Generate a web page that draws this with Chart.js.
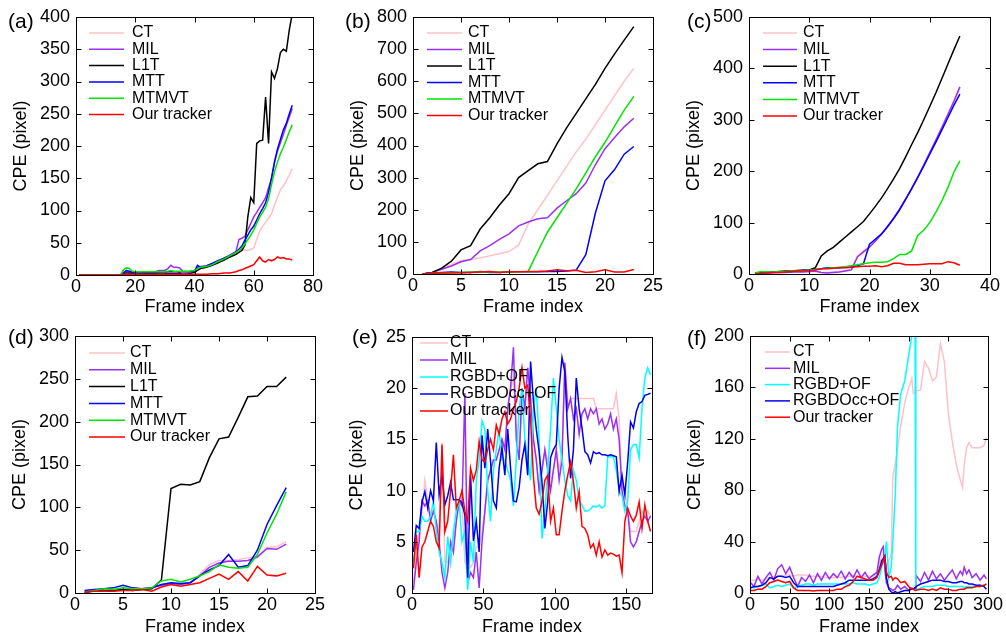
<!DOCTYPE html>
<html>
<head>
<meta charset="utf-8">
<script src="https://cdn.jsdelivr.net/npm/chart.js@4.4.1/dist/chart.umd.min.js"></script>
<style>
  html, body { margin: 0; padding: 0; background: #fff; }
  #wrap { position: relative; width: 1006px; height: 639px; overflow: hidden; }
  #wrap canvas { position: absolute; }
</style>
</head>
<body>
<div id="wrap"></div>
<script>
// ---------- colours ----------
const PINK = '#ffc0cb', PURPLE = '#9b30f5', BLACK = '#000000', BLUE = '#0000ff',
      GREEN = '#00e600', RED = '#ff0000', CYAN = '#00ffff', BLUE2 = '#0000ee';

// ---------- (a) ----------
const framesA = [1,14,15,16,17,18,19,20,22,24,26,28,30,31,32,33,34,35,36,38,40,41,42,44,46,48,50,52,54,55,56,57,58,59,60,61,62,63,64,65,66,67,68,69,70,71,72,73];
const ctA    = [0,0,0,2,5,6,4,3,3,3,3,4,4,4,4,4,4,4,3,4,5,9,11,13,16,20,24,29,34,38,39,39,38,40,42,55,68,75,82,88,95,108,120,132,138,146,155,165];
const milA   = [0,0,0,4,6,5,4,4,5,4,4,7,7,10,15,12,12,11,6,5,6,12,13,14,18,22,26,31,36,55,57,60,70,80,90,97,105,112,120,135,150,175,192,205,218,232,245,258];
const l1tA   = [0,0,0,2,3,3,2,3,3,2,2,3,3,2,2,2,2,3,1,2,4,7,10,12,15,19,23,28,32,35,38,46,90,120,112,204,208,209,276,204,315,305,320,345,350,347,380,405];
const mttA   = [0,0,0,3,7,6,4,4,4,4,4,5,5,5,5,5,5,5,5,5,6,15,12,14,18,22,26,30,36,40,45,54,62,70,76,85,95,103,112,128,150,175,195,210,225,235,250,263];
const mtmvtA = [0,0,0,8,11,10,6,5,5,5,5,5,5,6,7,6,6,6,6,6,7,10,12,13,16,21,25,30,35,38,42,48,55,62,70,80,90,97,105,118,140,160,175,188,198,210,222,233];
const oursA  = [0,0,0,1,1,1,1,1,1,1,1,1,1,1,1,1,1,1,1,1,1,1,1,1,2,2,3,3,5,7,8,10,12,14,16,22,28,22,20,24,22,24,28,26,27,25,25,23];

// ---------- (b) ----------
const framesB = [1,2,3,4,5,6,7,8,9,10,11,12,13,14,15,16,17,18,19,20,21,22,23];
const ctB    = [0,5,18,30,42,45,50,57,63,70,90,155,200,245,290,335,380,420,465,510,555,600,640];
const milB   = [0,5,15,25,38,45,72,88,108,125,150,162,172,175,205,228,250,283,340,390,425,458,485];
const l1tB   = [0,5,18,40,75,88,140,175,215,250,300,322,343,350,405,455,500,545,590,640,685,728,770];
const mttB   = [0,3,5,6,5,5,8,5,5,6,7,7,7,8,8,9,12,60,190,290,325,373,397];
const mtmvtB = [0,2,3,4,5,6,6,6,6,6,7,8,70,130,175,220,265,315,365,410,460,510,553];
const oursB  = [0,2,3,3,4,5,6,8,5,7,7,8,8,9,13,10,12,5,7,13,6,6,14];

// ---------- (c) ----------
const framesC = [1,2,3,4,5,6,7,8,9,10,11,12,13,14,15,16,17,18,19,20,21,22,23,24,25,26,27,28,29,30,31,32,33,34,35];
const ctC    = [2,2,3,3,3,4,4,4,5,5,5,3,3,4,5,7,10,35,45,53,65,78,92,108,126,146,166,188,212,236,260,284,308,334,362];
const milC   = [2,2,2,3,3,3,4,4,4,5,6,3,2,3,4,6,8,33,43,52,64,78,93,108,126,146,166,188,212,236,260,285,310,336,364];
const l1tC   = [2,3,3,4,5,6,6,7,8,8,12,35,45,52,62,72,82,92,102,117,132,148,166,185,205,228,252,275,300,326,352,380,408,436,463];
const mttC   = [1,2,3,3,4,5,5,6,7,8,9,10,12,12,12,13,14,16,20,58,68,78,92,108,125,145,166,188,210,233,256,280,304,328,350];
const mtmvtC = [2,5,4,4,5,5,6,6,7,8,9,10,11,12,13,14,16,18,20,22,23,23,24,30,38,38,45,75,85,100,120,142,168,198,220];
const oursC  = [0,1,2,3,3,4,5,6,6,7,8,10,10,11,12,12,13,14,15,15,16,14,16,21,21,18,18,18,19,20,20,20,24,22,17];

// ---------- (d) ----------
const framesD = [1,2,3,4,5,6,7,8,9,10,11,12,13,14,15,16,17,18,19,20,21,22];
const ctD    = [2,3,3,4,4,4,5,6,9,11,10,12,22,33,38,38,39,41,43,53,54,60];
const milD   = [2,2,3,3,4,4,5,6,9,11,10,12,20,30,35,37,37,38,42,52,51,57];
const l1tD   = [0,3,2,3,4,3,4,5,15,122,127,126,130,158,180,182,205,229,230,241,241,252];
const mttD   = [3,4,5,6,9,6,5,6,10,12,11,12,20,27,32,45,30,32,50,80,102,123];
const mtmvtD = [1,3,5,4,6,5,5,6,14,16,13,16,20,25,33,30,29,30,45,70,92,118];
const oursD  = [1,2,2,2,3,3,4,2,7,10,8,10,12,17,22,16,25,14,31,21,20,23];

// ---------- (e) ----------
const framesE = [1,3,5,7,9,11,13,15,17,19,21,23,25,27,29,31,33,35,37,39,41,43,45,47,49,51,53,55,57,59,61,63,65,67,69,71,73,75,77,79,81,83,85,87,89,91,93,95,97,99,101,103,105,107,109,111,113,115,117,119,121,123,125,127,129,131,133,135,137,139,141,143,145,147,149,151,153,155,157,159,161,163,165,167];
const ctE    = [1,4,6,8,11,9,7.5,8,7,6,14.7,3,3,5,5,7,9,9,3,2.5,2.5,3,4.5,4.5,6,8,11,12,13,13,14,15,14,18,20,21,16,14,18,18,22,19,15,13,10,12,14,13,11,12,14,12,14,22,18,19,19,19,19,19,19,19,19,19,18,18,18,18,18,18,18,19.5,17,10,10,8,6,6,6,7,8,7.5,8,7.5];
const milE   = [0.3,3,5,9,8.5,9,7,8,7,5,2,0.5,2,5,4,7,9,8.5,19.5,1,2,1.5,4,0.5,5,8,11,12,13,13,14,15,14,18,20,24,15,13,20,18,22,19,15,13,10,12,14,12,10,12,14,11,13,22.5,18,19,17,18,15.5,17.5,18,17,18,17.5,18,16.5,17,16,16.5,17.5,16,17,15,10,8.5,8,5,4.5,5,6,7,7.5,7,7.5];
const rgbdE  = [3,6,6,7.5,7,7,7.5,9,6,4,3,1.5,5.5,3,6,8,9,5,6,0.3,5,3,11,13,16.8,16,10,7,12,14,16,13,13,12,11,8.5,13,18,20,15,13,11,18,20,15,5.3,8,12,16,21,18,15,13,11,9.5,9,12,11,9,8.6,8,8,8.2,8.5,8.4,8.6,8.3,8.5,13.3,13.3,13.3,12,10,9.5,8,9,14,14.5,14.5,13.2,18,21,22,21.3];
const occE   = [4,6.6,6.3,8.9,9.9,8.3,10,9,14.7,9.6,11.5,8.6,9.5,10.8,9.1,9.1,9.1,8.8,7.6,1.5,11.5,5.1,7,4,15.4,12.2,16,12.8,9,8.3,12.2,14.2,11.5,16,12.2,9,8.9,10.3,13,14.5,11.5,22.6,18.7,16,13.8,10.8,6.3,8.9,13.2,14,14.5,20,23,21.6,15.4,11.2,14,21,18,16.1,13.8,13.5,12.7,13.8,13.6,13.7,13.5,13.5,13.4,13.5,13.4,13.3,9.9,11.5,9.6,12.8,16.7,16.1,17.7,18.5,18.7,19.3,19.4,19.5];
const oursE  = [2.4,5.7,1.5,4.5,5,6,7,6.5,5,4.4,14.5,6,7,10,13.5,8.3,9,10,8,7,12.2,11,12,14.8,13,12.8,14,15,14,16.4,15.5,17,17.7,16.5,17,18,18.7,20,22,20,20.3,17,11.3,8.3,7.7,9,11,11.5,7,8.3,5.7,5.7,8,10,11.5,12.8,10.9,8.3,9.9,6.5,6.3,5.7,4.4,4.8,3.7,5,3.5,4.2,3.7,3.9,3.8,3.6,3.7,2,7,8.3,7.5,7,7.6,8.9,6.3,8.6,7,6];

// ---------- (f) ----------
const framesF = [1,5,10,15,20,25,30,35,40,45,50,55,60,65,70,75,80,85,90,95,100,105,110,115,120,125,130,135,140,145,150,155,160,163,166,168,170,172,175,178,180,183,186,190,195,200,204,206,208,209,215,220,225,230,235,240,245,250,255,260,265,268,270,273,276,280,285,290,295,298];
const ctF    = [10,10,11,10,11,12,12,13,13,14,14,13,14,14,14,13,13,13,13,12,12,12,12,12,13,13,13,13,13,13,13,13,15,22,30,30,22,20,25,30,90,100,112,130,148,160,167,155,156,157,158,180,175,165,168,194,180,140,118,100,88,82,100,113,117,113,113,113,115,121];
const milF   = [8,5,13,7,12,16,10,19,22,15,20,12,5,12,9,14,8,15,10,16,11,15,12,17,11,16,12,18,12,16,11,14,16,28,34,36,18,8,4,3,2,3,6,3,5,2,4,3,4,14,9,16,10,17,11,15,10,14,18,11,17,14,20,15,18,12,15,10,14,11];
const rgbdF  = [5,4,5,6,7,4,5,6,5,6,7,4,5,6,7,7,6,7,7,7,7,7,7,7,7,7,8,7,7,7,6,7,8,12,20,25,30,40,12,20,40,75,130,155,165,185,200,215,215,2,4,5,5,5,6,6,6,5,5,5,5,5,4,5,5,5,5,6,6,7];
const occF   = [4,5,5,6,8,12,11,13,13,12,13,8,5,5,5,5,5,5,5,5,5,5,6,7,8,10,10,10,10,10,10,11,13,18,25,27,29,12,3,1,0,1,0,1,2,2,3,3,4,5,7,8,9,10,10,10,9,9,8,8,9,9,8,8,7,7,6,6,5,3];
const oursF  = [2,2,3,3,5,8,9,10,9,8,9,4,2,2,2,2,1.5,2,2,2,2,2,3,3,5,6,9,13,12,11,10,10,12,17,22,25,28,16,12,13,10,12,11,8,9,5,3,3,2,2,3,3,2,3,2,4,3,3,2,2,3,3,3,4,4,4,5,5,6,7];

const FONT = '"Liberation Sans", Arial, sans-serif';

// draws the MATLAB-style box, inward ticks, legend and panel tag
const framePlugin = {
  id: 'frame',
  afterDatasetsDraw(chart, args, o) {
    const { ctx, chartArea: a, scales: { x, y } } = chart;
    const L = Math.round(a.left) + 0.5, R = Math.round(a.right) + 0.5;
    const T = Math.round(a.top) + 0.5, B = Math.round(a.bottom) + 0.5;
    ctx.save();
    ctx.strokeStyle = '#000';
    ctx.lineWidth = 1;
    ctx.beginPath();
    x.ticks.forEach(t => {
      const px = Math.round(x.getPixelForValue(t.value)) + 0.5;
      ctx.moveTo(px, B); ctx.lineTo(px, B - 5);
      ctx.moveTo(px, T); ctx.lineTo(px, T + 5);
    });
    y.ticks.forEach(t => {
      const py = Math.round(y.getPixelForValue(t.value)) + 0.5;
      ctx.moveTo(L, py); ctx.lineTo(L + 5, py);
      ctx.moveTo(R, py); ctx.lineTo(R - 5, py);
    });
    ctx.stroke();
    ctx.strokeRect(L, T, R - L, B - T);

    // legend
    const lg = o.legend;
    ctx.font = '16px ' + FONT;
    ctx.textBaseline = 'middle';
    ctx.textAlign = 'left';
    chart.data.datasets.forEach((ds, i) => {
      const yy = a.top + lg.y + i * lg.row;
      ctx.strokeStyle = ds.borderColor;
      ctx.lineWidth = 1.5;
      ctx.beginPath();
      ctx.moveTo(a.left + lg.x, yy);
      ctx.lineTo(a.left + lg.x + lg.len, yy);
      ctx.stroke();
      ctx.fillStyle = '#000';
      ctx.fillText(ds.label, a.left + lg.x + lg.len + lg.gap, yy);
    });

    // panel tag
    ctx.font = '21px ' + FONT;
    ctx.textBaseline = 'alphabetic';
    ctx.fillText(o.tag, a.left - o.tagDx, a.top + o.tagDy);
    ctx.restore();
  }
};

function makePanel(p) {
  const [rx, ry, rw, rh] = p.rect;
  const [bl, bt, br, bb] = p.box;
  const cv = document.createElement('canvas');
  cv.width = rw; cv.height = rh;
  cv.style.left = rx + 'px'; cv.style.top = ry + 'px';
  cv.style.width = rw + 'px'; cv.style.height = rh + 'px';
  document.getElementById('wrap').appendChild(cv);

  const yW = bl - rx, xH = ry + rh - bb;
  const padT = bt - ry, padR = rx + rw - br;
  const yTitlePad = (bl - 55 - rx) - 10.8;
  const xTitlePad = (ry + rh - p.xTitleY) - 10.8;
  const n = p.series.length;

  const datasets = p.series.map(([label, values, color], i) => ({
    label,
    data: values.map((v, k) => ({ x: p.frames[k], y: v })),
    borderColor: color,
    backgroundColor: color,
    borderWidth: 1.5,
    pointRadius: 0,
    tension: 0,
    fill: false,
    order: n - i
  }));

  const tickFont = { family: FONT, size: 18 };
  const noGrid = { display: false, drawTicks: false, tickLength: 0 };
  new Chart(cv, {
    type: 'line',
    data: { datasets },
    options: {
      responsive: false,
      animation: false,
      events: [],
      layout: { padding: { left: 0, top: padT, right: padR, bottom: 0 } },
      plugins: {
        legend: { display: false },
        tooltip: { enabled: false },
        frame: { legend: p.legend, tag: p.tag, tagDx: p.tagDx, tagDy: p.tagDy }
      },
      scales: {
        x: {
          type: 'linear', min: 0, max: p.xMax,
          afterFit: s => { s.height = xH; },
          grid: noGrid, border: { display: false },
          ticks: { stepSize: p.xStep, includeBounds: false, autoSkip: false, maxRotation: 0,
                   color: '#000', font: tickFont, padding: 1 },
          title: { display: true, text: 'Frame index', color: '#000', font: tickFont,
                   padding: { top: 0, bottom: xTitlePad } }
        },
        y: {
          type: 'linear', min: 0, max: p.yMax,
          afterFit: s => { s.width = yW; },
          grid: noGrid, border: { display: false },
          ticks: { stepSize: p.yStep, includeBounds: false, autoSkip: false,
                   color: '#000', font: tickFont, padding: 6 },
          title: { display: true, text: 'CPE (pixel)', color: '#000', font: tickFont,
                   padding: { top: yTitlePad, bottom: 0 } }
        }
      }
    },
    plugins: [framePlugin]
  });
}

const trackers = (ct, mil, l1t, mtt, mtmvt, ours) => [
  ['CT', ct, PINK], ['MIL', mil, PURPLE], ['L1T', l1t, BLACK],
  ['MTT', mtt, BLUE], ['MTMVT', mtmvt, GREEN], ['Our tracker', ours, RED]
];
const rgbdTrackers = (ct, mil, rgbd, occ, ours) => [
  ['CT', ct, PINK], ['MIL', mil, PURPLE], ['RGBD+OF', rgbd, CYAN],
  ['RGBDOcc+OF', occ, BLUE2], ['Our tracker', ours, RED]
];

makePanel({ tag: '(a)', rect: [0, 0, 336, 318], box: [76, 17, 313, 275], xTitleY: 307,
  tagDx: 68, tagDy: 11, xMax: 80, xStep: 20, yMax: 400, yStep: 50, frames: framesA,
  series: trackers(ctA, milA, l1tA, mttA, mtmvtA, oursA),
  legend: { x: 13, y: 16, len: 35, gap: 8, row: 16.3 } });

makePanel({ tag: '(b)', rect: [336, 0, 335, 318], box: [413, 17, 653, 274], xTitleY: 307,
  tagDx: 68, tagDy: 11, xMax: 25, xStep: 5, yMax: 800, yStep: 100, frames: framesB,
  series: trackers(ctB, milB, l1tB, mttB, mtmvtB, oursB),
  legend: { x: 14, y: 16, len: 35, gap: 6, row: 16.5 } });

makePanel({ tag: '(c)', rect: [671, 0, 335, 318], box: [749, 17, 990, 274], xTitleY: 307,
  tagDx: 62, tagDy: 11, xMax: 40, xStep: 10, yMax: 500, yStep: 100, frames: framesC,
  series: trackers(ctC, milC, l1tC, mttC, mtmvtC, oursC),
  legend: { x: 14, y: 16, len: 34, gap: 6, row: 16.6 } });

makePanel({ tag: '(d)', rect: [0, 318, 336, 321], box: [75, 336, 315, 593], xTitleY: 627,
  tagDx: 67, tagDy: 8, xMax: 25, xStep: 5, yMax: 300, yStep: 50, frames: framesD,
  series: trackers(ctD, milD, l1tD, mttD, mtmvtD, oursD),
  legend: { x: 14, y: 17, len: 36, gap: 5, row: 16.8 } });

makePanel({ tag: '(e)', rect: [336, 318, 335, 321], box: [412, 337, 652, 593], xTitleY: 627,
  tagDx: 60, tagDy: 7, xMax: 168, xStep: 50, yMax: 25, yStep: 5, frames: framesE,
  series: rgbdTrackers(ctE, milE, rgbdE, occE, oursE),
  legend: { x: 8, y: 6, len: 28, gap: 2, row: 17 } });

makePanel({ tag: '(f)', rect: [671, 318, 335, 321], box: [750, 336, 988, 593], xTitleY: 627,
  tagDx: 63, tagDy: 9, xMax: 300, xStep: 50, yMax: 200, yStep: 40, frames: framesF,
  series: rgbdTrackers(ctF, milF, rgbdF, occF, oursF),
  legend: { x: 15, y: 16, len: 25, gap: 3, row: 16.3 } });
</script>
</body>
</html>
